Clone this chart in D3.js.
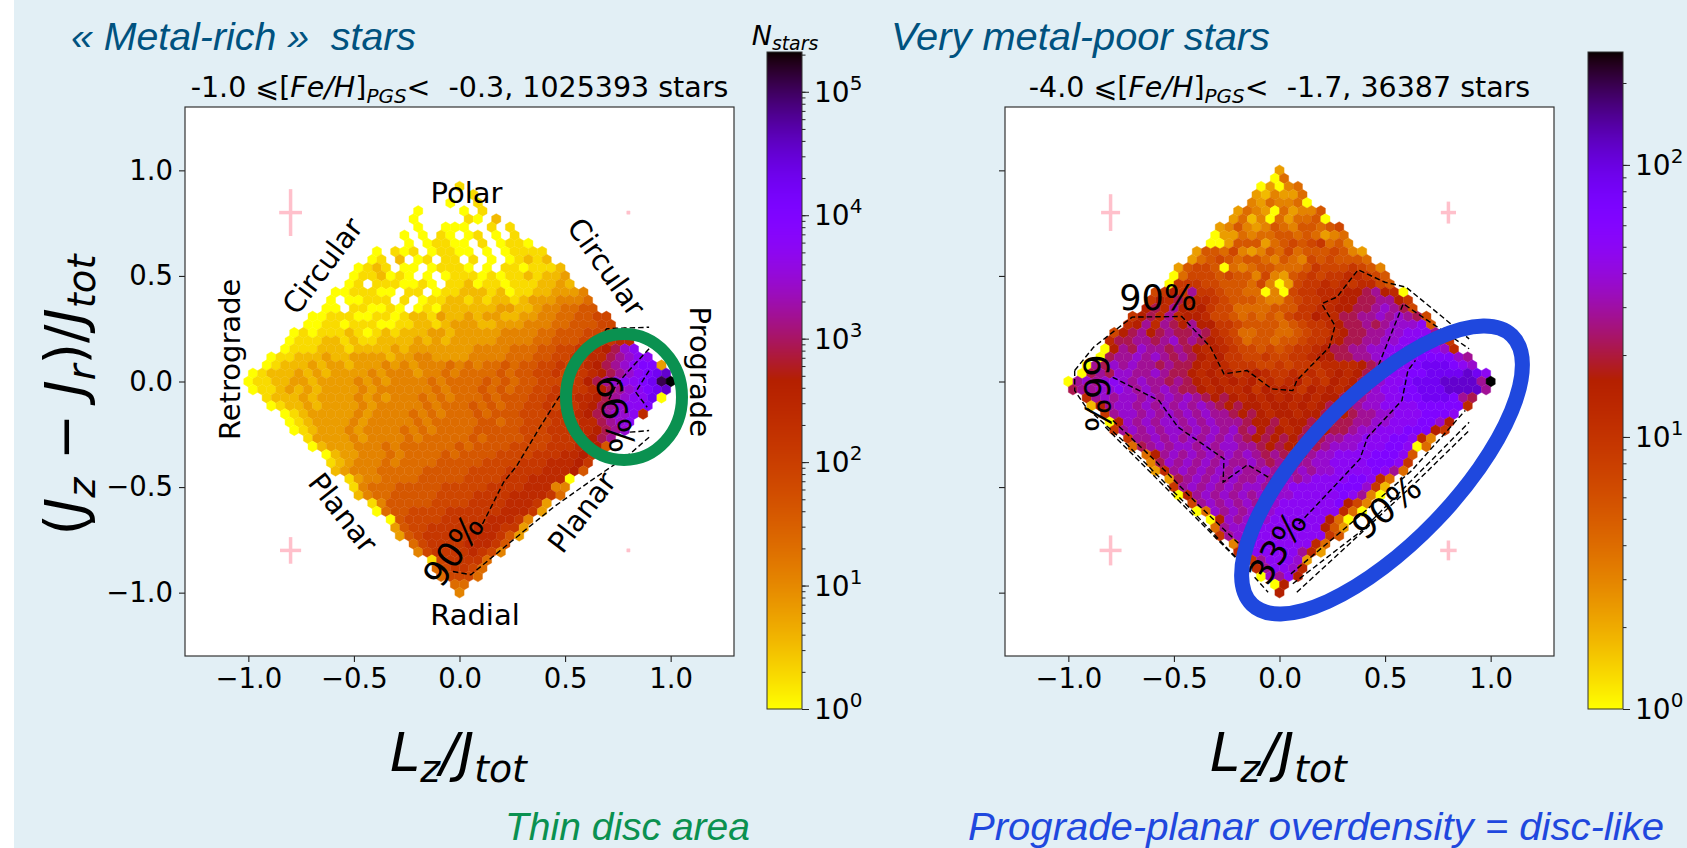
<!DOCTYPE html>
<html>
<head>
    <meta charset="UTF-8">
    <title>Lz/Jtot diamonds</title>
    <script src="https://d3js.org/d3.v7.min.js"></script>
    <style>
        body { margin: 0; background: #fff; }
        svg { font-family: "DejaVu Sans", sans-serif; display: block; }
        .note { font-family: "Liberation Sans", sans-serif; font-style: italic; }
    </style>
</head>
<body>
    <svg width="1687" height="848"></svg>
    <script>
        // hexbin cells, one string per row from y=+1 down to y=-1
        // each char is a level 0-9a-k = log(N)/log(Nmax) * 20, '.' is an empty cell
        const leftRows = [
            "", "",
            "..1..", "....1.", "..0..1.", "0....0.1..", "0.....10.2.", "..0..000..1.1.",
            ".0.0.10.01.0.1.", "..0.01100.1.0110", "0.101.01100.0.01111", "01.2.01.11.1.0.01212",
            "0121.00.01110.0.1101112", "011201" + "0.0.01110101121223", "01.1110010.11201101112232",
            "0011100.11.01122212011223334", "0.00111.1.0112212122123334445", "00.110010.01022222233223445566",
            "001110011012213223233223344556677", "0011011100112212333223334445566677",
            "0101112101212223323333344445566677788", "01112212112222323233333444455666778899",
            "01112221222232333333344445556677889abde", "0112223223333233443333444455566778899bcdee",
            ".01222323" + "3233343" + "4344454" + "5455656" + "677878" + "9abcdeff3",
            "012223232" + "3333434" + "44344545" + "5556566" + "778788" + "9abcdefgh",
            "011223323" + "3334343" + "44445455" + "5565656" + "677788" + "abcdeefgjk",
            "011232323" + "3334344" + "44445455" + "5656566" + "778788" + "9abcdefgh",
            ".12223233" + "3343434" + "4454545" + "5565666" + "778889" + "9abcdeeg0",
            "0122323" + "3334344" + "4445455" + "5656566" + "778788" + "9abcdeef",
            ".012333" + "3343444" + "4545455" + "5656667" + "778889" + "abcdde9",
            "012333" + "3434444" + "4545555" + "5665667" + "7788899" + "bcde",
            "01233" + "3434444" + "5454555" + "5666667" + "7788899" + "abcd",
            "1333" + "3434444" + "5455555" + "6566667" + "778889" + "abc",
            "0233" + "3444545" + "5555565" + "6666777" + "788899" + "a6",
            "0233" + "444545" + "555656" + "666777" + "788899" + "a8",
            "1234" + "445455" + "556666" + "677778" + "88999" + "a8",
            "2344" + "455555" + "666667" + "777888" + "8999a6",
            "134" + "45555" + "66666" + "77778" + "88999" + "90",
            "145" + "55666" + "66777" + "77888" + "8999" + "44",
            "245" + "5666" + "66777" + "78888" + "999985",
            "146" + "66667" + "77788" + "8899983",
            "056" + "6777" + "78888" + "8899983",
            "067" + "7778" + "88889" + "9984",
            "367788888999883",
            "36788888999863",
            "57888899986",
            "4788889874",
            "1788885",
            "578875",
            "57775",
            "55",
            "4"
        ];
        const rightRows = [
            "3", "05", "03045", "324335", "4354450", "3543053446", "35240535560", "34643465466567",
            "033545566565345", "0036663567678564", "3665743465756667643", "35676566546547676665",
            "36776054566555687778764", "057776766474367878899876", "0888776665740378898989976",
            "78a8c8876655040788999aabca90", "8a9b99987666544678899aabbcca8", "ab9ca9a87755556668899aabbcdcb7",
            "8ab9c9aa977656565788a99bbccdcdcb7", "9ac9cbacaa8876666567889abbcbcddde6",
            "7abcabcbbcb98755665567889abbccddeeec9", "9bbccbcdbcba9875665667889abbccddeeffc8",
            "0acbdccbcba9a98776767889abbccddeeeffed9", ".0bccdcdcbcba9a8877877889aabbccdeeeeffffdc",
            "0cbdcdcc" + "bcbba9a988" + "877878889999" + "abcdeefgggfed",
            ".0bcbddc" + "cdcbba9a9a" + "89a98898989a9a" + "bcdeeffgggghge",
            "0cdcdedc" + "dccbcba9a9a" + "9a8989a898a9a" + "bcdeefggghhhhck",
            "bccddedc" + "dcdcbba9a9" + "9a8a9a98a9a9ab" + "cdeeffggghhhhc",
            "9cdcddcd" + "cdcdcbaba9" + "a9a9a9a9aab9" + "cddeeffgggfcb",
            "2acddcdc" + "dcdcdcbaba" + "a9aa9a9abab" + "cddeeeefffff9",
            "8cddcdcd" + "cdcdccbab" + "a9aa9aab9a" + "bccddeeefffe",
            "0adcdcdd" + "cdcdcccba" + "ab9aaba9b" + "bccddeeeffda",
            "8cdcdcdd" + "cdcdcdbc" + "aba9abaab" + "bcddeeefffa8",
            "8ccdcdcd" + "cdcdcb" + "abababa" + "bccddeeeffe94",
            "5bcdcddc" + "dcddcc" + "babaab" + "bcdddeeeffe05",
            "5acdcdcd" + "cdcdc" + "bcbbb" + "cddeeeefffe6",
            "4bdcdcdc" + "dccdc" + "bcbcc" + "ddeeeefffe8",
            "39cdcdcd" + "cdccdcc" + "cdcddeeeefec5",
            "3bcdcdcdcc" + "dccdc" + "deeeeffe95",
            "8cdcdcdcd" + "dcdd" + "eeeeefffd82",
            "0acdcdcdc" + "dddd" + "eeeeefec40",
            "7cdcdcdc" + "ddee" + "eeeefa74",
            "05dcdcd" + "ddeeeeeee950",
            "0adcdd" + "deeeeeea50",
            "5cdddeeeeeeea63",
            "8cddeeeeeeee86",
            "4ceeeeeee95",
            "9ceeeeec93",
            "8ceeed3",
            "9ceed9",
            "0dcea",
            "0a",
            "a"
        ];

        const axisTicks = [-1, -0.5, 0, 0.5, 1];
        const leftMax = 2.1e5;
        const rightMax = 260;
        const leftDecades = [1, 10, 100, 1000, 10000, 100000];
        const rightDecades = [1, 10, 100];

        // dashed contours, data coords
        const leftContours = [
            [[0.109, -0.675], [0.209, -0.477], [0.272, -0.398], [0.381, -0.216], [0.481, -0.058], [0.56, 0.07], [0.644, 0.194], [0.698, 0.25], [0.898, 0.257]],
            [[-0.031, -0.9], [0.054, -0.915], [0.308, -0.706], [0.444, -0.596], [0.635, -0.461], [0.716, -0.406], [0.816, -0.335], [0.898, -0.264]],
            [[0.807, -0.24], [0.898, -0.232]],
            [[0.898, 0.155], [0.8, 0.05], [0.74, -0.02], [0.7, -0.1]],
            [[0.898, 0.052], [0.834, -0.05], [0.889, -0.122]]
        ];
        const rightContours = [
            [[-0.97, 0.052], [-0.88, 0.163], [-0.698, 0.305], [-0.463, 0.308], [-0.327, 0.163], [-0.263, 0.036], [-0.154, 0.052], [-0.036, -0.035], [0.063, -0.043], [0.082, 0.005], [0.236, 0.163], [0.263, 0.265], [0.2, 0.368], [0.272, 0.4], [0.372, 0.529], [0.5, 0.47], [0.599, 0.447], [0.898, 0.202]],
            [[-0.97, 0.052], [-0.97, -0.043], [-0.916, -0.122], [-0.733, -0.288], [-0.444, -0.58], [-0.2, -0.84]],
            [[-0.79, 0.02], [-0.571, -0.09], [-0.481, -0.216], [-0.263, -0.366], [-0.267, -0.477], [-0.151, -0.394], [-0.027, -0.469], [0.1, -0.3], [0.25, -0.2], [0.45, 0.03], [0.586, 0.368], [0.898, 0.155]],
            [[0.091, -0.675], [0.381, -0.367], [0.417, -0.264], [0.58, -0.09], [0.608, 0.052], [0.644, 0.1]],
            [[0.082, -0.998], [0.644, -0.48], [0.898, -0.232]],
            [[0.063, -0.958], [0.39, -0.706], [0.898, -0.193]],
            [[0.054, -0.911], [0.372, -0.643], [0.626, -0.422], [0.88, -0.137]],
            [[-0.825, -0.216], [-0.209, -0.833]],
            [[-0.789, -0.185], [-0.59, -0.374], [-0.381, -0.588], [-0.19, -0.77]],
            [[-0.118, -0.927], [-0.054, -0.998]]
        ];

        // pink crosses: x, y, half width, half height in data units
        const leftCrosses = [[-0.8, 0.8, 0.054, 0.111], [-0.8, -0.8, 0.05, 0.063], [0.8, 0.8, 0.008, 0.008], [0.8, -0.8, 0.008, 0.008]];
        const rightCrosses = [[-0.8, 0.8, 0.045, 0.087], [0.8, 0.8, 0.036, 0.052], [-0.8, -0.8, 0.052, 0.071], [0.8, -0.8, 0.039, 0.047]];

        const leftLabels = [
            ["Polar", 0.033, 0.893, 0, 29], ["Radial", 0.073, -1.106, 0, 29],
            ["Retrograde", -1.085, 0.105, -90, 29], ["Prograde", 1.138, 0.046, 90, 29],
            ["Circular", -0.648, 0.547, -53, 29], ["Circular", 0.695, 0.542, 55, 29],
            ["Planar", -0.553, -0.622, 52, 29], ["Planar", 0.58, -0.62, -53, 29],
            ["66%", 0.735, -0.153, 78, 35], ["90%", -0.027, -0.8, -55, 35]
        ];
        const rightLabels = [
            ["90%", -0.575, 0.397, 0, 35], ["66%", -0.866, -0.055, 88, 35],
            ["33%", -0.009, -0.788, -58, 35], ["90%", 0.508, -0.596, -40, 35]
        ];

        const size = 549;
        const sx = 2 / 46, rowStep = 2 / 52;
        const svg = d3.select("svg");

        svg.append("rect").attr("x", 14).attr("width", 1673).attr("height", 848).attr("fill", "#e2eff5");

        const colorFor = max => {
            const s = d3.scaleLog().domain([1, max]).range([0, 1]);
            // gnuplot_r
            return v => {
                const x = 1 - s(v);
                const r = Math.sqrt(x), g = x * x * x, b = Math.max(0, Math.sin(2 * Math.PI * x));
                return d3.rgb(r * 255, g * 255, b * 255).formatHex();
            };
        };

        // sub/italic text runs
        function runs(sel, parts, fs) {
            let shift = 0;
            parts.forEach(p => {
                const sub = p[2] === "sub";
                const target = sub ? fs * 0.2 : 0;
                sel.append("tspan")
                    .attr("dy", target - shift)
                    .attr("font-style", p[1] ? "italic" : "normal")
                    .attr("font-size", sub ? fs * 0.7 : fs)
                    .text(p[0]);
                shift = target;
            });
        }

        function panel(cfg) {
            const x = d3.scaleLinear().domain([-1.3, 1.3]).range([cfg.left, cfg.left + size]);
            const y = d3.scaleLinear().domain([-1.3, 1.3]).range([656, 107]);
            const color = colorFor(cfg.max);
            const g = svg.append("g");

            g.append("rect").attr("x", cfg.left).attr("y", 107).attr("width", size).attr("height", size).attr("fill", "#fff");

            // hexes
            const cells = [];
            cfg.rows.forEach((row, r) => {
                const k = 26 - r;
                const odd = Math.abs(k) % 2 === 1;
                const start = -(row.length - 1) / 2;
                row.split("").forEach((c, i) => {
                    if (c === ".") return;
                    let col = start + i;
                    col = odd ? Math.floor(col) + 0.5 : Math.round(col);
                    cells.push({ cx: col * sx, cy: k * rowStep, n: Math.pow(cfg.max, parseInt(c, 36) / 20) });
                });
            });
            const hexPath = d => {
                const h = rowStep * 2 / 3;
                const pts = [[0, h], [sx / 2, h / 2], [sx / 2, -h / 2], [0, -h], [-sx / 2, -h / 2], [-sx / 2, h / 2]];
                return "M" + pts.map(p => x(d.cx + p[0]) + "," + y(d.cy + p[1])).join("L") + "Z";
            };
            g.selectAll(".hex").data(cells).enter().append("path")
                .attr("class", "hex")
                .attr("d", hexPath)
                .attr("fill", d => color(d.n))
                .attr("stroke", d => color(d.n))
                .attr("stroke-width", 0.4);

            const line = d3.line().x(d => x(d[0])).y(d => y(d[1]));
            g.selectAll(".contour").data(cfg.contours).enter().append("path")
                .attr("d", line)
                .attr("fill", "none")
                .attr("stroke", "#000")
                .attr("stroke-width", 1.4)
                .attr("stroke-dasharray", "5.5,3");

            cfg.crosses.forEach(c => {
                g.append("line").attr("x1", x(c[0] - c[2])).attr("x2", x(c[0] + c[2])).attr("y1", y(c[1])).attr("y2", y(c[1]))
                    .attr("stroke", "#ffc0cb").attr("stroke-width", 3.5);
                g.append("line").attr("x1", x(c[0])).attr("x2", x(c[0])).attr("y1", y(c[1] - c[3])).attr("y2", y(c[1] + c[3]))
                    .attr("stroke", "#ffc0cb").attr("stroke-width", 3.5);
            });

            cfg.labels.forEach(l => {
                g.append("text")
                    .attr("transform", `translate(${x(l[1])},${y(l[2])}) rotate(${l[3]})`)
                    .attr("text-anchor", "middle")
                    .attr("dominant-baseline", "central")
                    .attr("font-size", l[4])
                    .text(l[0]);
            });

            // axes
            const bottom = g.append("g").attr("transform", "translate(0,656)")
                .call(d3.axisBottom(x).tickValues(axisTicks).tickFormat(d3.format(".1f")).tickSize(6).tickPadding(6));
            const leftAxis = g.append("g").attr("transform", `translate(${cfg.left},0)`)
                .call(d3.axisLeft(y).tickValues(axisTicks).tickFormat(cfg.yLabels ? d3.format(".1f") : "").tickSize(6).tickPadding(6));
            [bottom, leftAxis].forEach(a => {
                a.selectAll("text").attr("font-size", 27.5).attr("font-family", "DejaVu Sans").attr("fill", "#000");
                a.selectAll("line").attr("stroke", "#222").attr("stroke-width", 1.1);
                a.select(".domain").remove();
            });
            g.append("rect").attr("x", cfg.left).attr("y", 107).attr("width", size).attr("height", size)
                .attr("fill", "none").attr("stroke", "#333").attr("stroke-width", 1.2);

            // title
            const title = g.append("text").attr("x", cfg.left + size / 2).attr("y", 97).attr("text-anchor", "middle");
            runs(title, cfg.title, 28.5);

            const xlab = g.append("text").attr("x", cfg.left + size / 2 - 1).attr("y", 771).attr("text-anchor", "middle");
            runs(xlab, [["L", 1], ["z", 1, "sub"], ["/J", 1], ["tot", 1, "sub"]], 54);

            // colour bar
            const cb = d3.scaleLog().domain([1, cfg.max]).range([709, 52]);
            const cbg = g.append("g");
            d3.range(710).filter(i => i >= 52 && i < 709).forEach(py => {
                cbg.append("rect").attr("x", cfg.cbx).attr("y", py).attr("width", 35).attr("height", 1.2).attr("fill", color(cb.invert(py + 0.5)));
            });
            cbg.append("rect").attr("x", cfg.cbx).attr("y", 52).attr("width", 35).attr("height", 657)
                .attr("fill", "none").attr("stroke", "#333").attr("stroke-width", 1);
            const minor = g.append("g").attr("transform", `translate(${cfg.cbx + 35},0)`)
                .call(d3.axisRight(cb).tickValues(cb.ticks().filter(v => v <= cfg.max)).tickFormat("").tickSize(3.5));
            minor.select(".domain").remove();
            minor.selectAll("line").attr("stroke", "#222");
            const major = g.append("g").attr("transform", `translate(${cfg.cbx + 35},0)`)
                .call(d3.axisRight(cb).tickValues(cfg.decades).tickFormat("").tickSize(7));
            major.select(".domain").remove();
            major.selectAll("line").attr("stroke", "#222");
            cfg.decades.forEach((v, i) => {
                const t = g.append("text").attr("x", cfg.cbx + 47).attr("y", cb(v) + 10).attr("font-size", 28).text("10");
                t.append("tspan").attr("dy", -12).attr("font-size", 20).text(i);
            });
        }

        panel({
            left: 185, cbx: 767, rows: leftRows, max: leftMax, contours: leftContours, crosses: leftCrosses,
            labels: leftLabels, decades: leftDecades, yLabels: true,
            title: [["-1.0 ⩽[", 0], ["Fe/H", 1], ["]", 0], ["PGS", 1, "sub"], ["<\u00a0 -0.3, 1025393 stars", 0]]
        });
        panel({
            left: 1005, cbx: 1588, rows: rightRows, max: rightMax, contours: rightContours, crosses: rightCrosses,
            labels: rightLabels, decades: rightDecades, yLabels: false,
            title: [["-4.0 ⩽[", 0], ["Fe/H", 1], ["]", 0], ["PGS", 1, "sub"], ["<\u00a0 -1.7, 36387 stars", 0]]
        });

        // y label and colour bar label
        const ylab = svg.append("text").attr("transform", "translate(84,395) rotate(-90)").attr("text-anchor", "middle");
        runs(ylab, [["(", 0], ["J", 1], ["z", 1, "sub"], [" − ", 0], ["J", 1], ["r", 1, "sub"], [")/", 0], ["J", 1], ["tot", 1, "sub"]], 55);
        const nlab = svg.append("text").attr("x", 785).attr("y", 45).attr("text-anchor", "middle");
        runs(nlab, [["N", 1], ["stars", 1, "sub"]], 27);

        // rings drawn on the slide, over the plots
        svg.append("ellipse").attr("cx", 624).attr("cy", 397).attr("rx", 58).attr("ry", 63)
            .attr("fill", "none").attr("stroke", "#0a9150").attr("stroke-width", 12);
        svg.append("ellipse").attr("transform", "translate(1382,470) rotate(-46)").attr("rx", 187).attr("ry", 74)
            .attr("fill", "none").attr("stroke", "#1f48de").attr("stroke-width", 15);

        // slide captions
        const notes = [
            ["« Metal-rich »  stars", 71, 50, 345, "#00527f"],
            ["Very metal-poor stars", 891, 50, 379, "#00527f"],
            ["Thin disc area", 505, 840, 245, "#0a9150"],
            ["Prograde-planar overdensity = disc-like", 968, 840, 696, "#1f48de"]
        ];
        notes.forEach(n => {
            svg.append("text").attr("class", "note")
                .attr("x", n[1]).attr("y", n[2])
                .attr("font-size", 38)
                .attr("textLength", n[3]).attr("lengthAdjust", "spacingAndGlyphs")
                .attr("fill", n[4])
                .style("white-space", "pre")
                .text(n[0]);
        });
    </script>
</body>
</html>
